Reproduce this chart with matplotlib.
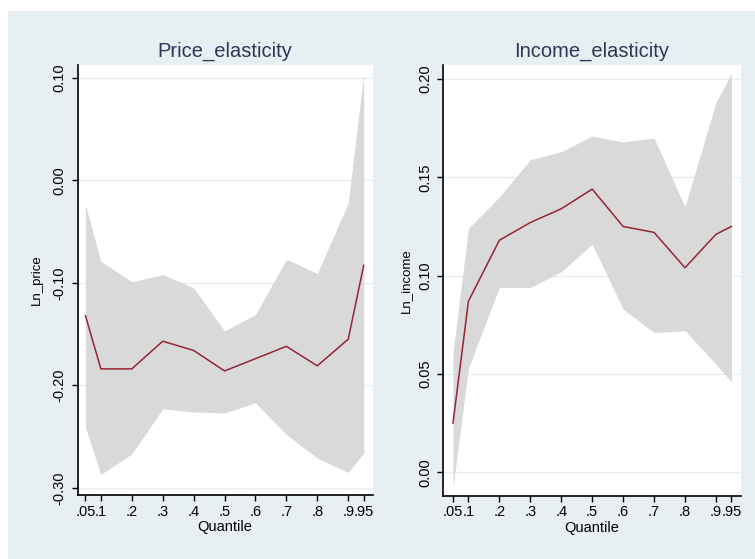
import matplotlib
matplotlib.use('Agg')
import matplotlib.pyplot as plt
from matplotlib.patches import Rectangle

plt.rcParams['font.family'] = ['Liberation Sans', 'DejaVu Sans']
plt.rcParams['axes.unicode_minus'] = False

quantiles = [0.05, 0.1, 0.2, 0.3, 0.4, 0.5, 0.6, 0.7, 0.8, 0.9, 0.95]
qlabels = ['.05', '.1', '.2', '.3', '.4', '.5', '.6', '.7', '.8', '.9', '.95']

price_coef = [-0.132, -0.184, -0.184, -0.157, -0.166, -0.186, -0.174, -0.162, -0.181, -0.155, -0.083]
price_hi = [-0.024, -0.079, -0.099, -0.092, -0.105, -0.147, -0.131, -0.077, -0.091, -0.022, 0.104]
price_lo = [-0.241, -0.287, -0.267, -0.223, -0.226, -0.227, -0.217, -0.248, -0.271, -0.285, -0.266]

income_coef = [0.025, 0.087, 0.118, 0.127, 0.134, 0.144, 0.125, 0.122, 0.104, 0.121, 0.125]
income_hi = [0.061, 0.124, 0.140, 0.159, 0.163, 0.171, 0.168, 0.170, 0.135, 0.188, 0.203]
income_lo = [-0.008, 0.053, 0.094, 0.094, 0.102, 0.116, 0.083, 0.071, 0.072, 0.055, 0.046]

bg = '#e8eff2'
navy = '#2a3858'
red = '#962435'
band = '#d9d9d9'

fig = plt.figure(figsize=(7.55, 5.59), dpi=100, facecolor='white')
fig.patches.append(Rectangle((8 / 755, 0), 1, 1 - 11 / 559, transform=fig.transFigure,
                             facecolor=bg, edgecolor='none', zorder=-10))

ax1 = fig.add_axes([0.1029, 0.1145, 0.3907, 0.7692])
ax2 = fig.add_axes([0.5871, 0.1132, 0.3939, 0.7705])

panels = [
    (ax1, price_coef, price_hi, price_lo, 'Price_elasticity', 'Ln_price',
     [-0.30, -0.20, -0.10, 0.00, 0.10], (-0.307, 0.1124), (0.025, 0.979), -0.118, 4),
    (ax2, income_coef, income_hi, income_lo, 'Income_elasticity', 'Ln_income',
     [0.00, 0.05, 0.10, 0.15, 0.20], (-0.0119, 0.2071), (0.0186, 0.980), -0.105, 4),
]

for ax, coef, hi, lo, title, ylab, yticks, ylim, xlim, labx, ypad in panels:
    ax.set_facecolor('white')
    ax.fill_between(quantiles, lo, hi, color=band, linewidth=0, zorder=2)
    ax.plot(quantiles, coef, color=red, linewidth=1.1, zorder=3)
    ax.set_xlim(*xlim)
    ax.set_ylim(*ylim)
    ax.set_yticks(yticks)
    ax.set_yticklabels(['%.2f' % v for v in yticks], rotation=90, va='center', fontsize=10.5)
    ax.set_xticks(quantiles)
    ax.set_xticklabels(qlabels, fontsize=10.5)
    for v in yticks:
        ax.axhline(v, color='#e6eef1', linewidth=1, zorder=1)
    for s in ['top', 'right']:
        ax.spines[s].set_visible(False)
    for s in ['left', 'bottom']:
        ax.spines[s].set_linewidth(1.2)
        ax.spines[s].set_color('black')
    ax.tick_params(direction='out', length=4, width=1)
    ax.tick_params(axis='x', pad=3)
    ax.tick_params(axis='y', pad=ypad)
    ax.set_title(title, color=navy, fontsize=14.5, pad=6)
    ax.set_xlabel('Quantile', fontsize=10.5, labelpad=1)
    ax.set_ylabel(ylab, fontsize=9.5)
    ax.yaxis.set_label_coords(labx, 0.5)

fig.savefig('out.png', dpi=100, facecolor=fig.get_facecolor())
